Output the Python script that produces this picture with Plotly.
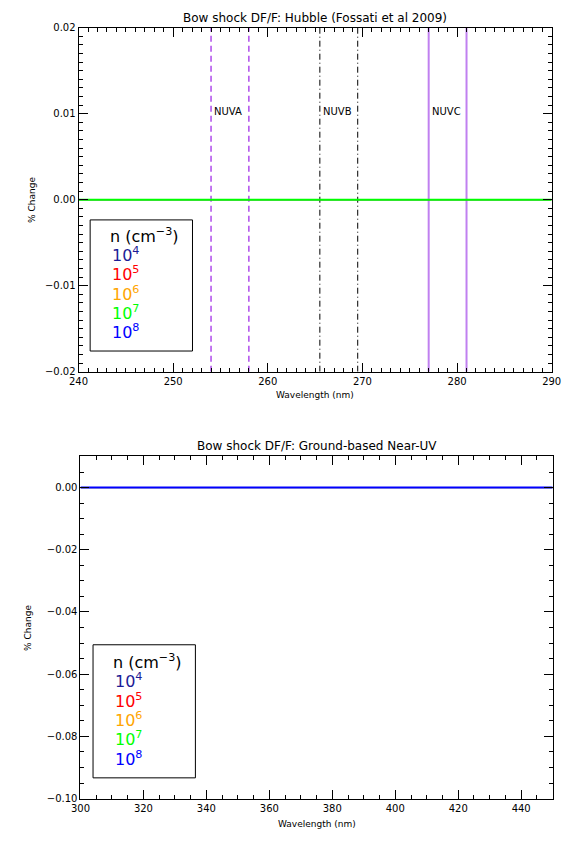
import plotly.graph_objects as go

W, H = 581, 843

# ---------------- data ----------------
# Top panel: Hubble NUV bands
wl_top = [240, 290]
top_change = {  # % change per density (all zero)
    "1e4": [0.0, 0.0],
    "1e5": [0.0, 0.0],
    "1e6": [0.0, 0.0],
    "1e8": [0.0, 0.0],
    "1e7": [0.0, 0.0],
}
# Bottom panel: ground-based near-UV
wl_bot = [300, 450]
bot_change = {
    "1e4": [0.0, 0.0],
    "1e5": [0.0, 0.0],
    "1e6": [0.0, 0.0],
    "1e7": [0.0, 0.0],
    "1e8": [0.0, 0.0],
}
band_names = ["NUVA", "NUVB", "NUVC"]
band_lo = [254.0, 265.5, 277.0]
band_hi = [258.0, 269.5, 281.0]
band_label_y = 0.0102
legend_title = "n (cm<sup>−3</sup>)"
legend_labels = ["10<sup>4</sup>", "10<sup>5</sup>", "10<sup>6</sup>", "10<sup>7</sup>", "10<sup>8</sup>"]
legend_keys = ["1e4", "1e5", "1e6", "1e7", "1e8"]
colors = {"1e4": "#1c1c96", "1e5": "#ff0000", "1e6": "#ffa500", "1e7": "#00ff00", "1e8": "#0000ff"}

top_title = "Bow shock DF/F: Hubble (Fossati et al 2009)"
bot_title = "Bow shock DF/F: Ground-based Near-UV"

FONT = "DejaVu Sans"

# ---------------- layout geometry (pixels) ----------------
def px(x):
    return x / W

def py(y):
    return 1 - y / H

top_box = (71, 561, 22, 371)   # left, right, top, bottom
bot_box = (73, 562, 457, 804)

fig = go.Figure()

band_styles = [dict(color="#9a1ee6", width=1.2, dash="6px,4px"),
               dict(color="#000000", width=1, dash="6px,3px,1px,3px"),
               dict(color="#c080f0", width=2, dash="solid")]
for name, lo, hi, st in zip(band_names, band_lo, band_hi, band_styles):
    for v in (lo, hi):
        fig.add_trace(go.Scatter(x=[v, v], y=[-0.02, 0.02], mode="lines", line=st,
                                 xaxis="x", yaxis="y", showlegend=False, hoverinfo="skip"))
    fig.add_annotation(x=lo, y=band_label_y, xref="x", yref="y", text=name, showarrow=False,
                       xanchor="left", yanchor="middle", xshift=1,
                       font=dict(family=FONT, size=10, color="black"))

n_top = len(top_change)
for i, (k, yv) in enumerate(top_change.items()):
    fig.add_trace(go.Scatter(x=wl_top, y=yv, mode="lines",
                             line=dict(color=colors[k], width=2 if i == n_top - 1 else 0.8),
                             xaxis="x", yaxis="y", showlegend=False, hoverinfo="skip"))

n_bot = len(bot_change)
for i, (k, yv) in enumerate(bot_change.items()):
    fig.add_trace(go.Scatter(x=wl_bot, y=yv, mode="lines",
                             line=dict(color=colors[k], width=2 if i == n_bot - 1 else 0.8),
                             xaxis="x2", yaxis="y2", showlegend=False, hoverinfo="skip"))

common_axis = dict(showgrid=False, zeroline=False, showline=True, linecolor="black", linewidth=1,
                   mirror="allticks", ticks="inside", ticklen=9, tickcolor="black", tickwidth=1,
                   tickfont=dict(family=FONT, size=10, color="black"))

def minor(d):
    return dict(dtick=d, ticks="inside", ticklen=4, tickcolor="black", tickwidth=1, showgrid=False)

fig.update_layout(
    width=W, height=H, margin=dict(l=0, r=0, t=0, b=0),
    paper_bgcolor="white", plot_bgcolor="white",
    xaxis=dict(domain=[px(top_box[0]), px(top_box[1])], range=[240, 290], dtick=10, tick0=240,
               anchor="y", minor=minor(1), **common_axis),
    yaxis=dict(domain=[py(top_box[3]), py(top_box[2])], range=[-0.02, 0.02], dtick=0.01, tick0=0,
               tickformat=".2f", anchor="x", minor=minor(0.001), **common_axis),
    xaxis2=dict(domain=[px(bot_box[0]), px(bot_box[1])], range=[300, 450], dtick=20, tick0=300,
                anchor="y2", minor=minor(5), **common_axis),
    yaxis2=dict(domain=[py(bot_box[3]), py(bot_box[2])], range=[-0.1, 0.01], dtick=0.02, tick0=0,
                tickformat=".2f", anchor="x2", minor=minor(0.005), **common_axis),
)

def text(xp, yp, t, size=10, color="black", xanchor="center", yanchor="middle", angle=0):
    fig.add_annotation(x=px(xp), y=py(yp), xref="paper", yref="paper", text=t, showarrow=False,
                       xanchor=xanchor, yanchor=yanchor, textangle=angle,
                       font=dict(family=FONT, size=size, color=color))

# titles
text((top_box[0] + top_box[1]) / 2, 12, top_title, size=12)
text((bot_box[0] + bot_box[1]) / 2, 446, bot_title, size=12)
# axis titles
text((top_box[0] + top_box[1]) / 2, 395, "Wavelength (nm)", size=9)
text((bot_box[0] + bot_box[1]) / 2, 830, "Wavelength (nm)", size=9)
text(22, (top_box[2] + top_box[3]) / 2, "% Change", size=9, angle=-90)
text(18, (bot_box[2] + bot_box[3]) / 2, "% Change", size=9, angle=-90)

# legend boxes
def legend(x0, x1, y0, y1, tx, ty0, dy):
    fig.add_shape(type="rect", xref="paper", yref="paper", x0=px(x0), x1=px(x1), y0=py(y1), y1=py(y0),
                  line=dict(color="black", width=1), fillcolor="white", layer="above")
    text(tx, ty0, legend_title, size=16, xanchor="left")
    for i, (k, lab) in enumerate(zip(legend_keys, legend_labels)):
        text(tx + 2, ty0 + dy * (i + 1), lab, size=16, color=colors[k], xanchor="left")

legend(83, 189, 217, 350, 102, 233, 19.4)
legend(86, 192, 648, 783, 105, 665, 19.6)

fig.write_html("out.html")
